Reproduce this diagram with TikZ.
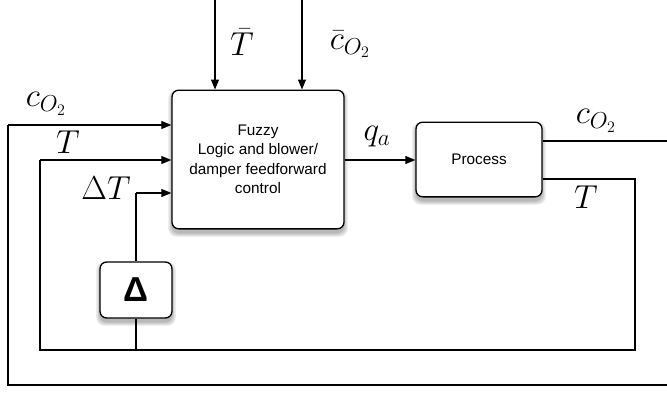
\documentclass[tikz,border=0pt]{standalone}
\usepackage{fontspec}
\setsansfont{Liberation Sans}
\usetikzlibrary{arrows.meta,backgrounds,positioning}

\tikzset{
  block/.style={draw, line width=1pt, rounded corners=5pt, fill=white,
    font=\sffamily\fontsize{11.5}{14.6}\selectfont, align=center},
  haze/.style={fill=black, opacity=0.1, rounded corners=6pt},
  sig/.style={line width=0.8pt, -{Triangle[length=7.5pt,width=6pt]}},
  wire/.style={line width=0.8pt},
  lbl/.style={font=\fontsize{24}{28}\selectfont, inner sep=0pt}
}

\begin{document}
\begin{tikzpicture}[x=0.75pt,y=-0.75pt]
 \useasboundingbox (0,0) rectangle (667,393);

 % blocks
 \node[block, minimum width=129pt, minimum height=104pt] (fuzzy) at (258,159.5)
   {Fuzzy\\Logic and blower/\\damper feedforward\\control};
 \node[block, minimum width=94.5pt, minimum height=56pt] (process) at (479,159.5) {Process};
 \node[block, minimum width=54pt, minimum height=42pt,
   font=\sffamily\bfseries\fontsize{26}{30}\selectfont] (delta) at (136,290) {Δ};

 % soft shadows under the blocks
 \begin{scope}[on background layer]
  \foreach \n in {fuzzy,process,delta}
   \foreach \e in {0,1.5,3}
    \fill[haze] ([shift={(-\e,4-\e)}]\n.north west) rectangle ([shift={(\e,4+\e)}]\n.south east);
 \end{scope}

 % set points from above
 \coordinate (tbar) at (215,0);
 \coordinate (cbar) at (302,0);
 \draw[sig] (tbar) -- (tbar |- fuzzy.north);
 \draw[sig] (cbar) -- (cbar |- fuzzy.north);
 \node[lbl] (tbarlbl) at (242,42) {$\bar{T}$};
 \node[lbl] (cbarlbl) at (350,44) {$\bar{c}_{O_2}$};

 % control output
 \draw[sig] (fuzzy.east |- 0,160) -- (process.west |- 0,160);
 \node[lbl] (qa) at (377,137) {$q_a$};

 % outer loop (c_O2)
 \coordinate (cout) at (672,141);
 \coordinate (cdown) at (672,385);
 \coordinate (cleft) at (8,385);
 \draw[wire] (process.east |- cout) -- (cout) -- (cdown) -- (cleft) -- (cleft |- 0,125);
 \draw[sig] (cleft |- 0,125) -- (fuzzy.west |- 0,125);
 \node[lbl] (cin) at (46,104) {$c_{O_2}$};
 \node[lbl] (coutlbl) at (596,121) {$c_{O_2}$};

 % inner loop (T)
 \coordinate (tout) at (635,179);
 \coordinate (tdown) at (635,350);
 \coordinate (tleft) at (40,350);
 \coordinate (tsplit) at (136,350);
 \draw[wire] (process.east |- tout) -- (tout) -- (tdown) -- (tleft) -- (tleft |- 0,160);
 \draw[sig] (tleft |- 0,160) -- (fuzzy.west |- 0,160);
 \node[lbl] (tin) at (68,142) {$T$};
 \node[lbl] (toutlbl) at (586,197) {$T$};

 % rate of change branch
 \draw[wire] (tsplit) -- (delta.south);
 \draw[wire] (delta.north) -- (delta.north |- 0,193);
 \draw[sig] (delta.north |- 0,193) -- (fuzzy.west |- 0,193);
 \node[lbl] (dtlbl) at (106,188) {$\Delta T$};
\end{tikzpicture}
\end{document}
